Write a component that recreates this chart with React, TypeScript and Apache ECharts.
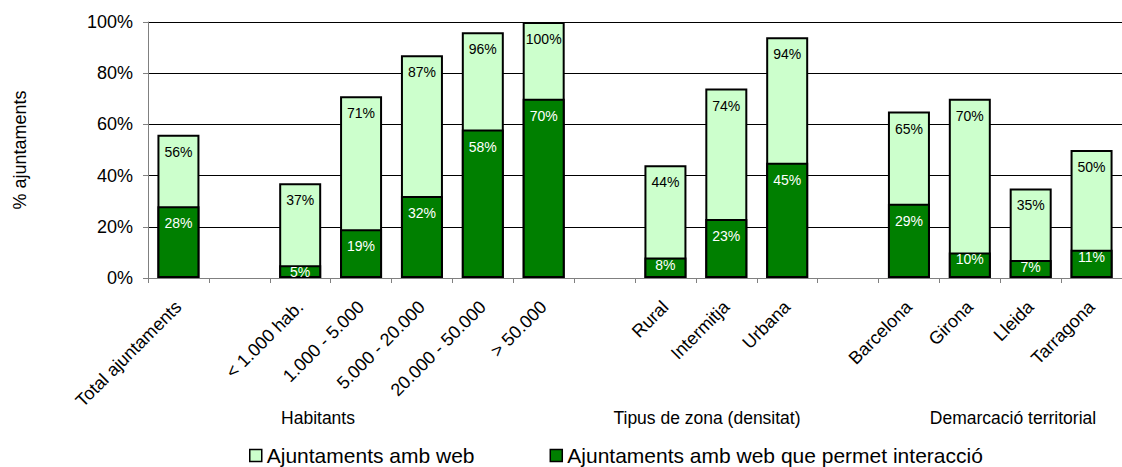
import React, { useEffect, useRef } from "react";
import * as echarts from "echarts";

const categories = [
  "Total ajuntaments",
  "",
  "< 1.000 hab.",
  "1.000 - 5.000",
  "5.000 - 20.000",
  "20.000 - 50.000",
  "> 50.000",
  "",
  "Rural",
  "Intermitja",
  "Urbana",
  "",
  "Barcelona",
  "Girona",
  "Lleida",
  "Tarragona",
];
const webValues = [56, null, 37, 71, 87, 96, 100, null, 44, 74, 94, null, 65, 70, 35, 50];
const interactValues = [28, null, 5, 19, 32, 58, 70, null, 8, 23, 45, null, 29, 10, 7, 11];
const yTicks = [0, 20, 40, 60, 80, 100];
const groupLabels = ["Habitants", "Tipus de zona (densitat)", "Demarcació territorial"];
const seriesNames = ["Ajuntaments amb web", "Ajuntaments amb web que permet interacció"];

const FONT = "'Liberation Sans', Arial, Helvetica, sans-serif";

export default function App() {
  const ref = useRef<HTMLDivElement>(null);
  useEffect(() => {
    if (!ref.current) return;
    const chart = echarts.init(ref.current, undefined, { renderer: "svg" });
    const groupX = [318, 707, 1013];
    chart.setOption({
      animation: false,
      textStyle: { fontFamily: FONT },
      grid: { left: 148, top: 22, width: 989, height: 256, containLabel: false },
      legend: {
        left: 249,
        top: 445,
        padding: 0,
        itemWidth: 12,
        itemHeight: 12,
        itemGap: 75,
        icon: "rect",
        textStyle: { fontSize: 21, color: "#000", fontFamily: FONT },
        data: seriesNames.map((n) => ({ name: n, itemStyle: { borderColor: "#000", borderWidth: 1.5 } })),
      },
      xAxis: {
        type: "category",
        data: categories,
        axisLine: { lineStyle: { color: "#808080", width: 1 } },
        axisTick: { show: true, interval: 0, length: 5, lineStyle: { color: "#808080" } },
        axisLabel: {
          interval: 0,
          rotate: 45,
          margin: 26,
          fontSize: 18,
          color: "#000",
          fontFamily: FONT,
        },
      },
      yAxis: {
        type: "value",
        min: yTicks[0],
        max: yTicks[yTicks.length - 1],
        interval: 20,
        axisLine: { show: true, lineStyle: { color: "#808080", width: 1 } },
        axisTick: { show: true, length: 5, lineStyle: { color: "#808080" } },
        axisLabel: { formatter: "{value}%", fontSize: 18, color: "#000", margin: 15, fontFamily: FONT },
        splitLine: { show: true, lineStyle: { color: "#000", width: 1 } },
      },
      graphic: [
        {
          type: "text",
          x: 20,
          y: 150,
          rotation: Math.PI / 2,
          style: {
            text: "% ajuntaments",
            fontSize: 18,
            fontFamily: FONT,
            fill: "#000",
            textAlign: "center",
            textVerticalAlign: "middle",
          },
        },
        ...groupLabels.map((t, i) => ({
          type: "text",
          x: groupX[i],
          y: 418,
          style: {
            text: t,
            fontSize: 17.5,
            fontFamily: FONT,
            fill: "#000",
            textAlign: "center",
            textVerticalAlign: "middle",
          },
        })),
      ],
      series: [
        {
          name: seriesNames[0],
          type: "bar",
          data: webValues,
          barWidth: 42,
          barGap: "-100%",
          itemStyle: { color: "#CCFFCC", borderColor: "#000", borderWidth: 2 },
          label: {
            show: true,
            position: "insideTop",
            distance: 10,
            formatter: "{c}%",
            fontSize: 14,
            color: "#000",
            fontFamily: FONT,
          },
        },
        {
          name: seriesNames[1],
          type: "bar",
          data: interactValues.map((v) =>
            v == null ? null : { value: v, label: { distance: v < 12 ? 0 : 10 } }
          ),
          barWidth: 42,
          barGap: "-100%",
          itemStyle: { color: "#007F00", borderColor: "#000", borderWidth: 2 },
          label: {
            show: true,
            position: "insideTop",
            distance: 10,
            formatter: "{c}%",
            fontSize: 14,
            color: "#fff",
            fontFamily: FONT,
          },
        },
      ],
    });
    return () => chart.dispose();
  }, []);
  return (
    <div
      ref={ref}
      style={{ position: "fixed", left: 0, top: 0, width: 1122, height: 467, background: "#fff" }}
    />
  );
}
